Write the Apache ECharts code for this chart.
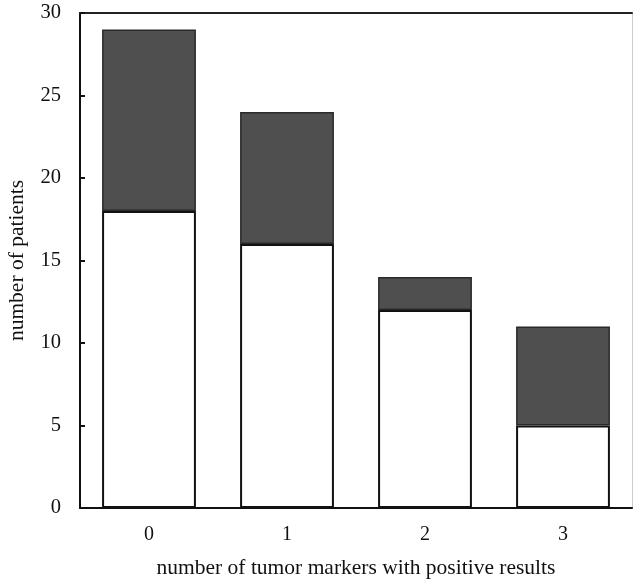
<!DOCTYPE html>
<html><head><meta charset="utf-8">
<script src="https://cdn.jsdelivr.net/npm/echarts@6/dist/echarts.min.js"></script>
<style>html,body{margin:0;padding:0;background:#fff}#c{width:633px;height:579px}</style>
</head><body><div id="c"></div>
<script>
const categories = ['0', '1', '2', '3'];
const negativeValues = [18, 16, 12, 5];
const positiveValues = [11, 8, 2, 6];
const yTicks = [0, 5, 10, 15, 20, 25, 30];

const chart = echarts.init(document.getElementById('c'));
const font = 'Liberation Serif';
chart.setOption({
  animation: false,
  backgroundColor: '#fff',
  grid: { left: 80, right: 1, top: 13, bottom: 71, containLabel: false, outerBoundsMode: 'none' },
  xAxis: [{
    type: 'category', data: categories, position: 'bottom',
    name: 'number of tumor markers with positive results', nameLocation: 'middle', nameGap: 49,
    nameTextStyle: { fontFamily: font, fontSize: 21.5, color: '#111' },
    axisLine: { onZero: false, lineStyle: { color: '#111', width: 2 } },
    axisTick: { inside: true, length: 7, lineStyle: { color: '#111', width: 2 } },
    axisLabel: { fontFamily: font, fontSize: 20, color: '#111', margin: 17 }
  }, {
    type: 'category', data: categories, position: 'top',
    axisLine: { onZero: false, lineStyle: { color: '#222', width: 2 } },
    axisTick: { show: false }, axisLabel: { show: false }
  }],
  yAxis: [{
    type: 'value', min: 0, max: 30, interval: 5,
    name: 'number of patients', nameLocation: 'middle', nameGap: 52,
    nameTextStyle: { fontFamily: font, fontSize: 21.5, color: '#111' },
    axisLine: { show: true, onZero: false, lineStyle: { color: '#111', width: 2 } },
    axisTick: { show: true, inside: true, length: 5, lineStyle: { color: '#111', width: 2 } },
    axisLabel: { fontFamily: font, fontSize: 20.5, color: '#111', margin: 19,
      formatter: v => yTicks.includes(v) ? String(v) : '' },
    splitLine: { show: false }
  }, {
    type: 'value', min: 0, max: 30, interval: 5, position: 'right',
    axisLine: { show: true, onZero: false, lineStyle: { color: '#ccc', width: 1 } },
    axisTick: { show: false }, axisLabel: { show: false }, splitLine: { show: false }
  }],
  series: [{
    type: 'bar', stack: 's', data: negativeValues, barWidth: '68%',
    itemStyle: { color: '#fff', borderColor: '#111', borderWidth: 2 }
  }, {
    type: 'bar', stack: 's', data: positiveValues, barWidth: '68%',
    itemStyle: { color: '#4f4f4f', borderColor: '#2a2a2a', borderWidth: 1.5 }
  }]
});
</script></body></html>
